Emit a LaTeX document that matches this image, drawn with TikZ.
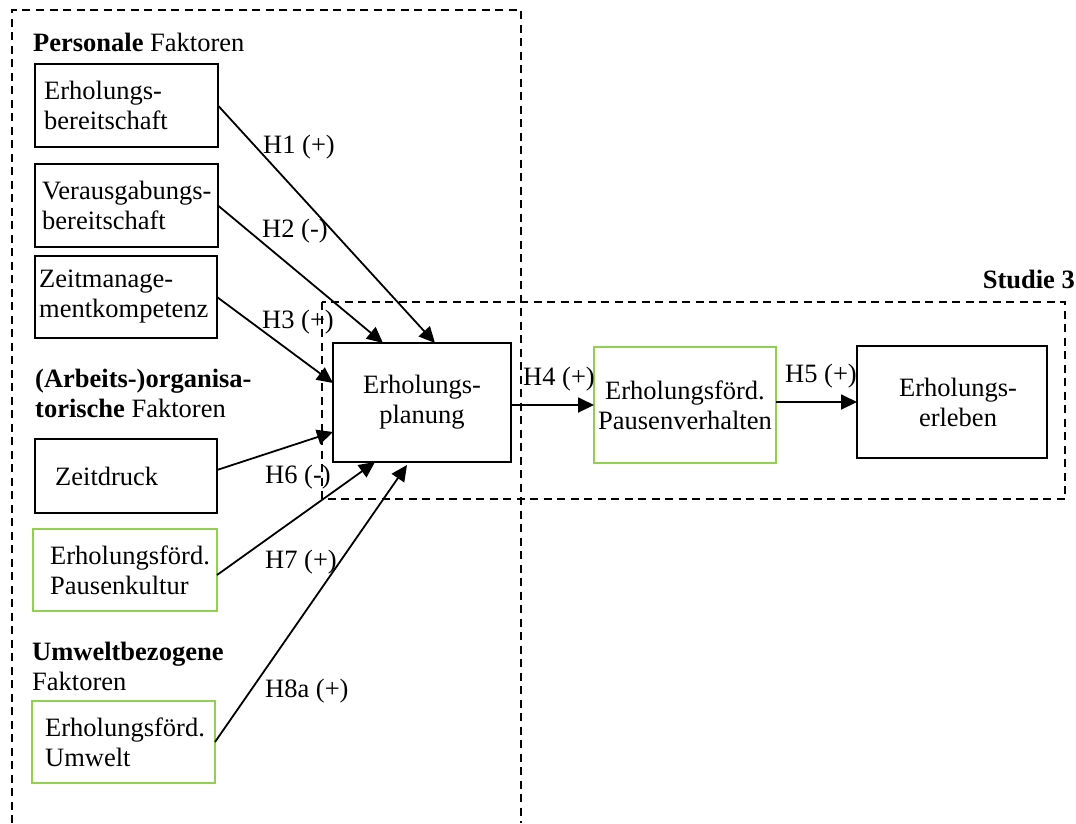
\documentclass[tikz,border=0pt]{standalone}
\usepackage{fontspec}
\setmainfont{Liberation Serif}
\usetikzlibrary{arrows.meta,calc}
\definecolor{boxgreen}{RGB}{146,208,80}
\begin{document}
\begin{tikzpicture}[x=1pt,y=-1pt,
  every node/.style={font=\fontsize{26.5}{30}\selectfont},
  frame/.style={draw=black, line width=1.7pt, dash pattern=on 8pt off 5.5pt},
  box/.style={draw=black, line width=1.8pt, anchor=north west, inner sep=0pt, outer sep=0pt},
  gbox/.style={box, draw=boxgreen},
  ltext/.style={align=left, inner sep=0pt, anchor=west},
  ctext/.style={align=center, inner sep=0pt},
  arr/.style={line width=1.8pt, -{Triangle[length=16pt,width=15pt]}},
  hyp/.style={anchor=base west, inner sep=0pt},
  cat/.style={anchor=base west, inner sep=0pt}]
\useasboundingbox (0,0) rectangle (1076,823);

% study frames
\draw[frame] (12,823) -- (12,10) -- (521,10) -- (521,823);
\draw[frame] (322,302) rectangle (1065,499);
\node[anchor=base east, inner sep=0pt] (studie) at (1075,288) {\textbf{Studie 3}};

% factor group headings
\node[cat] (cat1)  at (33,51)  {\textbf{Personale} Faktoren};
\node[cat] (cat2a) at (35,387) {\textbf{(Arbeits-)organisa-}};
\node[cat] (cat2b) at (35,417) {\textbf{torische} Faktoren};
\node[cat] (cat3a) at (32,660) {\textbf{Umweltbezogene}};
\node[cat] (cat3b) at (32,690) {Faktoren};

% predictor boxes
\node[box,  minimum width=183pt, minimum height=83pt] (eb) at (35,64)  {};
\node[box,  minimum width=183pt, minimum height=83pt] (vb) at (35,164) {};
\node[box,  minimum width=182pt, minimum height=82pt] (zm) at (35,256) {};
\node[box,  minimum width=182pt, minimum height=74pt] (zd) at (35,439) {};
\node[gbox, minimum width=184pt, minimum height=82pt] (pk) at (33,529) {};
\node[gbox, minimum width=183pt, minimum height=82pt] (uw) at (32,701) {};

\node[ltext] (ebt) at ([xshift=9pt]eb.west)  {Erholungs-\\bereitschaft};
\node[ltext] (vbt) at ([xshift=7pt]vb.west)  {Verausgabungs-\\bereitschaft};
\node[ltext] (zmt) at ([xshift=4pt]zm.west)  {Zeitmanage-\\mentkompetenz};
\node[ltext] (zdt) at ([xshift=20pt]zd.west) {Zeitdruck};
\node[ltext] (pkt) at ([xshift=17pt]pk.west) {Erholungsförd.\\Pausenkultur};
\node[ltext] (uwt) at ([xshift=13pt]uw.west) {Erholungsförd.\\Umwelt};

% mediator and outcome boxes
\node[box,  minimum width=178pt, minimum height=119pt] (plan) at (333,343) {};
\node[gbox, minimum width=182pt, minimum height=116pt] (pv)   at (594,347) {};
\node[box,  minimum width=190pt, minimum height=112pt] (ee)   at (857,346) {};

\node[ctext] (plant) at (plan.center) {Erholungs-\\planung};
\node[ctext] (pvt)   at (pv.center)   {Erholungsförd.\\Pausenverhalten};
\node[ctext] (eet)   at ([xshift=6pt]ee.center) {Erholungs-\\erleben};

% hypothesised paths
\draw[arr] (eb.east) -- ([xshift=102pt]plan.north west);
\draw[arr] (vb.east) -- ([xshift=50pt]plan.north west);
\draw[arr] (zm.east) -- ([yshift=-40pt]plan.north west);
\draw[arr] ([yshift=6pt]zd.east) -- ([yshift=-89pt]plan.north west);
\draw[arr] ([yshift=-5pt]pk.east) -- ([xshift=42pt]plan.south west);
\draw[arr] (uw.east) -- ([xshift=74pt,yshift=-3pt]plan.south west);
\draw[arr] (plan.east |- pv.west) -- (pv.west);
\draw[arr] (pv.east |- ee.west) -- (ee.west);

% path labels
\node[hyp] (h1) at (263,153) {H1 (+)};
\node[hyp] (h2) at (262,237) {H2 (-)};
\node[hyp] (h3) at (262,328) {H3 (+)};
\node[hyp] (h6) at (265,483) {H6 (-)};
\node[hyp] (h7) at (265,568) {H7 (+)};
\node[hyp] (h8) at (265,697) {H8a (+)};
\node[hyp] (h4) at (523,385) {H4 (+)};
\node[hyp] (h5) at (785,382) {H5 (+)};
\end{tikzpicture}
\end{document}
